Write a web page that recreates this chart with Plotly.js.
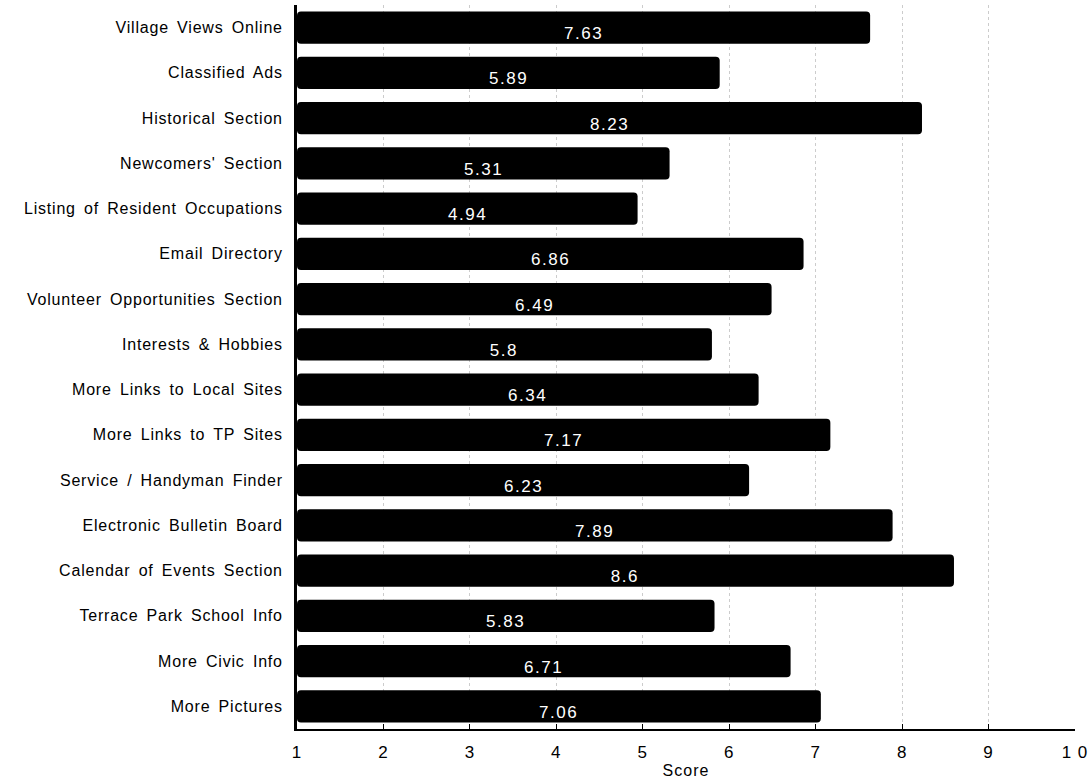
<!DOCTYPE html>
<html>
<head>
<meta charset="utf-8">
<script src="https://cdn.plot.ly/plotly-3.0.1.min.js"></script>
<style>
html,body{margin:0;padding:0;background:#fff;}
#chart{width:1089px;height:784px;}
#chart g.ytick text{letter-spacing:0.8px;word-spacing:3px;}
#chart text.annotation-text{letter-spacing:1.5px;}
#chart text.xtitle{letter-spacing:1px;}
#chart g.xtick text{letter-spacing:1px;}
</style>
</head>
<body>
<div id="chart"></div>
<script>
const categories = [
  "Village Views Online",
  "Classified Ads",
  "Historical Section",
  "Newcomers' Section",
  "Listing of Resident Occupations",
  "Email Directory",
  "Volunteer Opportunities Section",
  "Interests & Hobbies",
  "More Links to Local Sites",
  "More Links to TP Sites",
  "Service / Handyman Finder",
  "Electronic Bulletin Board",
  "Calendar of Events Section",
  "Terrace Park School Info",
  "More Civic Info",
  "More Pictures"
];
const scores = [7.63, 5.89, 8.23, 5.31, 4.94, 6.86, 6.49, 5.8, 6.34, 7.17, 6.23, 7.89, 8.6, 5.83, 6.71, 7.06];
const tickValues = [1, 2, 3, 4, 5, 6, 7, 8, 9, 10];
const tickLabels = ["1", "2", "3", "4", "5", "6", "7", "8", "9", "1 0"];
const axisMin = 1;
const axisMax = 10;

const FONT = "Liberation Sans, Arial, Helvetica, sans-serif";

const trace = {
  type: "bar",
  orientation: "h",
  y: categories,
  x: scores.map(v => v - axisMin),
  base: axisMin,
  width: 0.71,
  marker: {color: "#000000", line: {width: 0}, cornerradius: 4},
  hoverinfo: "skip"
};

const annotations = categories.map((c, i) => ({
  x: (axisMin + scores[i]) / 2,
  y: c,
  xref: "x",
  yref: "y",
  text: String(scores[i]),
  showarrow: false,
  yshift: -6,
  font: {family: FONT, size: 17, color: "#ffffff"}
}));

const layout = {
  width: 1089,
  height: 784,
  margin: {l: 297, r: 14, t: 5, b: 55},
  paper_bgcolor: "#ffffff",
  plot_bgcolor: "#ffffff",
  showlegend: false,
  bargap: 0.29,
  xaxis: {
    range: [axisMin, axisMax],
    tickvals: tickValues,
    ticktext: tickLabels,
    ticks: "inside",
    ticklen: 5,
    tickcolor: "#000",
    ticklabelstandoff: 7,
    showline: true,
    linecolor: "#000",
    linewidth: 2,
    showgrid: true,
    gridcolor: "#cccccc",
    griddash: "dot",
    gridwidth: 1,
    zeroline: false,
    tickfont: {family: FONT, size: 17, color: "#000"},
    title: {text: "Score", font: {family: FONT, size: 16, color: "#000"}, standoff: 3}
  },
  yaxis: {
    type: "category",
    categoryorder: "array",
    categoryarray: categories,
    range: [15.5, -0.5],
    showline: true,
    linecolor: "#000",
    linewidth: 3,
    ticks: "",
    ticklabelstandoff: 8,
    showgrid: false,
    zeroline: false,
    tickfont: {family: FONT, size: 16, color: "#000"}
  },
  annotations: annotations
};

Plotly.newPlot("chart", [trace], layout, {displayModeBar: false, staticPlot: true});
</script>
</body>
</html>
